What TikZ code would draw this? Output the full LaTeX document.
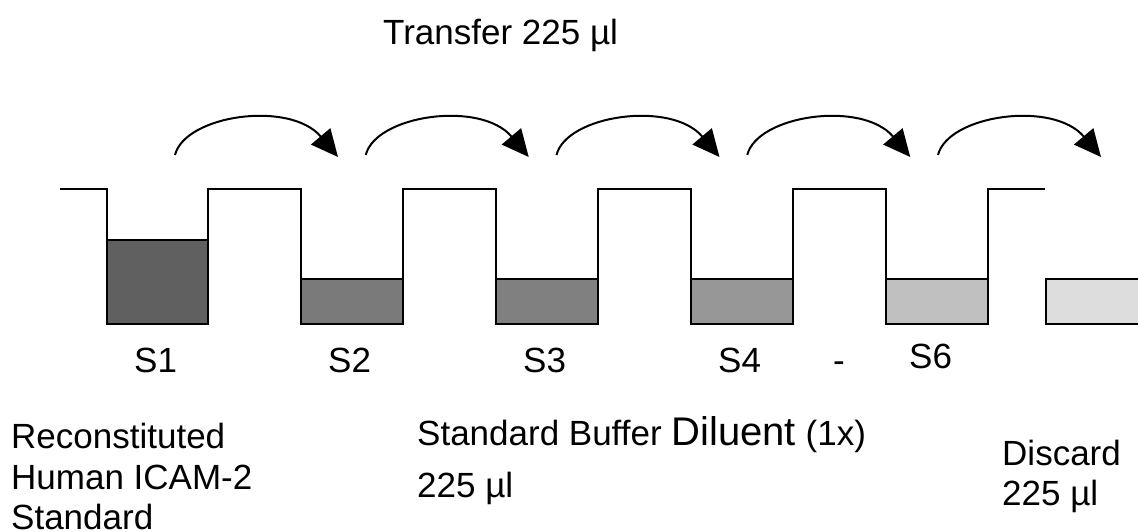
\documentclass[tikz,border=0pt]{standalone}
\usepackage{fontspec}
\setmainfont{Liberation Sans}
\usetikzlibrary{arrows.meta}
\definecolor{gA}{HTML}{606060}
\definecolor{gB}{HTML}{7A7A7A}
\definecolor{gC}{HTML}{808080}
\definecolor{gD}{HTML}{979797}
\definecolor{gE}{HTML}{C0C0C0}
\definecolor{gF}{HTML}{DDDDDD}
\tikzset{
  wall/.style={draw=black, line width=2pt, line join=miter},
  liquid/.style={draw=black, line width=2pt},
  transfer/.style={draw=black, line width=2pt, -{Triangle[length=27pt,width=25pt]}},
  lbl/.style={inner sep=0pt, anchor=base west, font=\fontsize{35}{42}\selectfont}
}
\begin{document}
\begin{tikzpicture}[x=1pt,y=-1pt]
\useasboundingbox (0,0) rectangle (1138,532);
% liquids
\path[liquid, fill=gA] (107,240) rectangle (208,324);
\path[liquid, fill=gB] (301,279) rectangle (403,324);
\path[liquid, fill=gC] (496,279) rectangle (598,324);
\path[liquid, fill=gD] (691,279) rectangle (793,324);
\path[liquid, fill=gE] (886,279) rectangle (988,324);
\fill[gF] (1046,279) rectangle (1140,324);
\draw[line width=2pt] (1140,279) -- (1046,279) -- (1046,324) -- (1140,324);
% plate walls
\draw[wall] (60,189) -- (107,189) -- (107,240)
            (208,240) -- (208,189) -- (301,189) -- (301,279)
            (403,279) -- (403,189) -- (496,189) -- (496,279)
            (598,279) -- (598,189) -- (691,189) -- (691,279)
            (793,279) -- (793,189) -- (886,189) -- (886,279)
            (988,279) -- (988,189) -- (1045,189);
% transfer arrows
\foreach \k in {0,1,2,3,4}{
  \begin{scope}[xshift=\k*190.75pt]
    \coordinate (a\k) at (175,155);
    \coordinate (b\k) at (338,157);
    \draw[transfer] (a\k) .. controls (185,115) and (290,100) .. (b\k);
  \end{scope}
}
% labels
\node[lbl] (tr) at (383,45) {Transfer 225 µl};
\node[lbl] (s1) at (134,372) {S1};
\node[lbl] (s2) at (328,372) {S2};
\node[lbl] (s3) at (523,372) {S3};
\node[lbl] (s4) at (718,372) {S4};
\node[lbl] (dash) at (833,372) {-};
\node[lbl] (s6) at (909,368) {S6};
\node[lbl] (rec1) at (11,448) {Reconstituted};
\node[lbl] (rec2) at (11,489) {Human ICAM-2};
\node[lbl] (rec3) at (11,529) {Standard};
\node[lbl] (sbd) at (417,445) {Standard Buffer {\fontsize{40}{46}\selectfont Diluent} (1x)};
\node[lbl] (sbv) at (417,497) {225 µl};
\node[lbl] (dis1) at (1002,465) {Discard};
\node[lbl] (dis2) at (1002,505) {225 µl};
\end{tikzpicture}
\end{document}
